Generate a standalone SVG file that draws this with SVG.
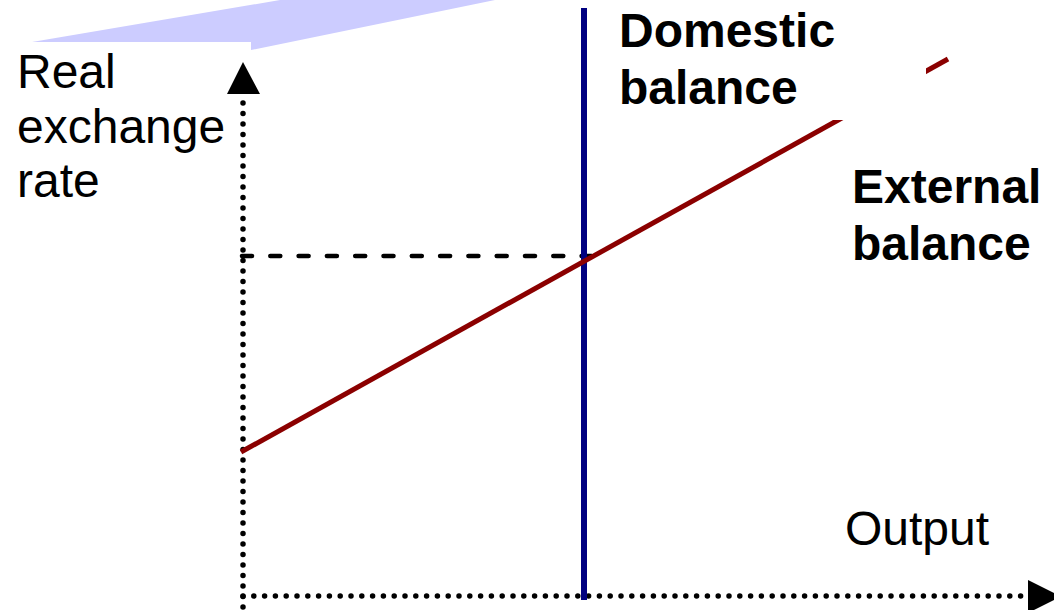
<svg xmlns="http://www.w3.org/2000/svg" width="1054" height="610" viewBox="0 0 1054 610">
<style>
.lbl{font-family:"Liberation Sans",Arial,sans-serif;font-size:48px;fill:#000}
.bold{font-weight:bold}
.dots{stroke:#000;stroke-width:5.5;stroke-linecap:round;fill:none}
</style>
<defs>
<clipPath id="gap"><polygon points="0,120 926,120 926,0 1054,0 1054,610 0,610"/></clipPath>
</defs>
<rect width="1054" height="610" fill="#fff"/>
<g id="banner">
<polygon points="32,42 280,0 495,0 251,50 251,42" fill="#CCCCFF"/>
</g>
<g id="connectors">
<line id="y-axis" class="dots" x1="243" y1="607" x2="243" y2="98" stroke-dasharray="0 10.5"/>
<polygon points="243,62 227,94 260,94" fill="#000"/>
<line id="x-axis" class="dots" x1="243" y1="596" x2="1026" y2="596" stroke-dasharray="0 10.8"/>
<polygon points="1028,580 1028,613 1061,596.5" fill="#000"/>
<line id="guide" x1="242" y1="256" x2="592" y2="256" stroke="#000" stroke-width="4.5" stroke-linecap="round" stroke-dasharray="10 18.3"/>
<line id="domestic-line" x1="584" y1="8" x2="584" y2="600" stroke="#000080" stroke-width="6"/>
<line id="external-line" x1="241" y1="452" x2="948" y2="59" stroke="#8B0000" stroke-width="5" clip-path="url(#gap)"/>
</g>
<g id="y-label">
<text class="lbl" x="17" y="88">Real</text>
<text class="lbl" x="17" y="143">exchange</text>
<text class="lbl" x="17" y="197">rate</text>
</g>
<g id="domestic-label">
<text class="lbl bold" x="619" y="47">Domestic</text>
<text class="lbl bold" x="619" y="104">balance</text>
</g>
<g id="external-label">
<text class="lbl bold" x="852" y="203">External</text>
<text class="lbl bold" x="852" y="260">balance</text>
</g>
<g id="x-label">
<text class="lbl" x="845" y="545">Output</text>
</g>
</svg>
